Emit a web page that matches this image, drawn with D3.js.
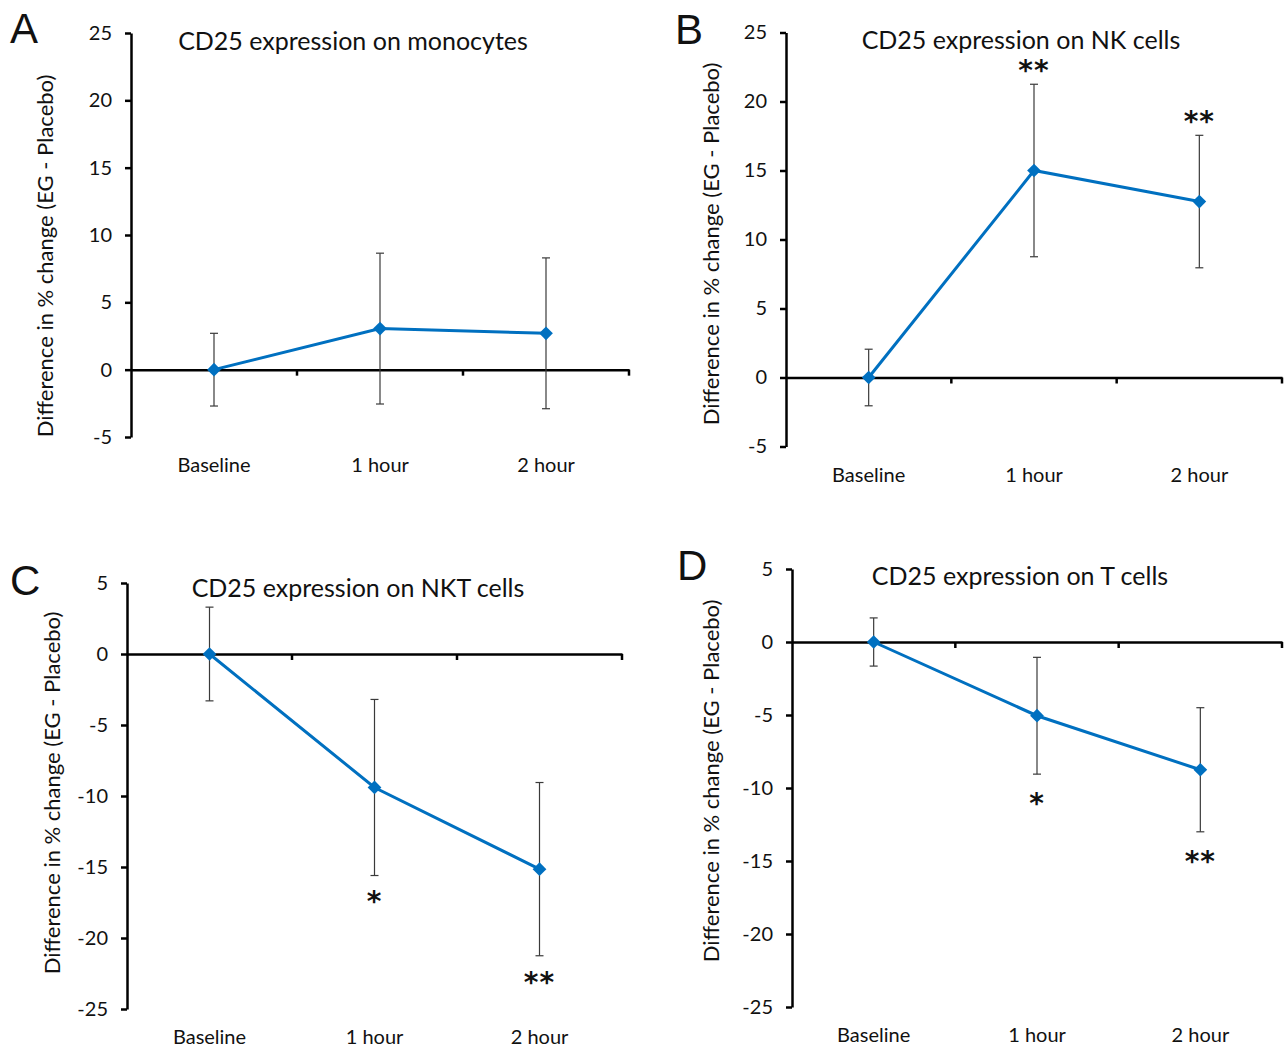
<!DOCTYPE html>
<html>
<head>
<meta charset="utf-8">
<script src="https://cdn.jsdelivr.net/npm/d3@7"></script>
<style>
  body { margin: 0; background: #fff; }
  text { font-family: Lato, "Open Sans", sans-serif; fill: #111; }
</style>
</head>
<body>
<div id="chart"></div>
<script>
// data
var categories = ["Baseline", "1 hour", "2 hour"];
var titles = ["CD25 expression on monocytes", "CD25 expression on NK cells",
              "CD25 expression on NKT cells", "CD25 expression on T cells"];
var letters = ["A", "B", "C", "D"];
var yLabel = "Difference in % change (EG - Placebo)";

var monoMean = [0, 3.05, 2.7],   monoErr = [2.7, 5.6, 5.6];
var nkMean   = [0, 15, 12.75],   nkErr   = [2.05, 6.25, 4.8];
var nktMean  = [0, -9.4, -15.15], nktErr = [3.3, 6.2, 6.1];
var tMean    = [0, -5.05, -8.75], tErr   = [1.65, 4.0, 4.25];

var ticksUp   = [-5, 0, 5, 10, 15, 20, 25];
var ticksDown = [-25, -20, -15, -10, -5, 0, 5];

// significance marks and where they sit (in data units)
var monoStars = ["", "", ""],     monoStarY = [null, null, null];
var nkStars   = ["", "**", "**"], nkStarY   = [null, 22.8, 19.1];
var nktStars  = ["", "*", "**"],  nktStarY  = [null, -16.9, -22.6];
var tStars    = ["", "*", "**"],  tStarY    = [null, -10.5, -14.5];

// set the dimensions of the page
var W = 1285, H = 1050;
var svg = d3.select("#chart").append("svg")
    .attr("width", W).attr("height", H);

var panels = [
  {mean: monoMean, err: monoErr, stars: monoStars, starY: monoStarY, ticks: ticksUp,
   left: 131, right: 629, top: 33, bottom: 437, titleX: 353, titleY: 50,
   labX: 45, labY: 256, letX: 10, letY: 43},
  {mean: nkMean, err: nkErr, stars: nkStars, starY: nkStarY, ticks: ticksUp,
   left: 786, right: 1282, top: 32.5, bottom: 446.5, titleX: 1021, titleY: 49,
   labX: 711, labY: 244, letX: 675, letY: 44},
  {mean: nktMean, err: nktErr, stars: nktStars, starY: nktStarY, ticks: ticksDown,
   left: 127, right: 622, top: 583, bottom: 1009, titleX: 358, titleY: 597,
   labX: 52, labY: 793, letX: 10, letY: 595},
  {mean: tMean, err: tErr, stars: tStars, starY: tStarY, ticks: ticksDown,
   left: 792, right: 1282, top: 569, bottom: 1007, titleX: 1020, titleY: 585,
   labX: 711, labY: 781, letX: 677, letY: 580}
];

panels.forEach(function(p, i) {
  var g = svg.append("g");

  var x = d3.scaleBand()
      .domain(categories)
      .range([p.left, p.right]);
  var y = d3.scaleLinear()
      .domain(d3.extent(p.ticks))
      .range([p.bottom, p.top]);

  // y axis
  var ya = g.append("g")
      .attr("transform", "translate(" + p.left + ",0)")
      .call(d3.axisLeft(y).tickValues(p.ticks).tickSize(6).tickSizeOuter(0).tickPadding(13)
        .tickFormat(function(d) { return String(d); }));
  ya.select(".domain").attr("stroke", "#000").attr("stroke-width", 2.5);
  ya.selectAll(".tick line").attr("stroke", "#000").attr("stroke-width", 2.5);
  ya.selectAll("text").style("font-family", "Lato, sans-serif")
      .style("font-size", "20px").attr("fill", "#111");

  // x axis at zero
  var xa = g.append("g")
      .attr("transform", "translate(0," + y(0) + ")")
      .call(d3.axisBottom(x).tickSize(0).tickSizeOuter(0).tickFormat(""));
  xa.select(".domain").attr("stroke", "#000").attr("stroke-width", 2.5);
  xa.selectAll(".tick").remove();
  xa.selectAll(".bound")
    .data(categories)
    .enter()
    .append("line")
      .attr("x1", function(d) { return x(d) + x.bandwidth(); })
      .attr("x2", function(d) { return x(d) + x.bandwidth(); })
      .attr("y1", 0).attr("y2", 6)
      .attr("stroke", "#000").attr("stroke-width", 2.5);

  // category labels below plot
  var ca = g.append("g")
      .attr("transform", "translate(0," + (p.bottom + 21) + ")")
      .call(d3.axisBottom(x).tickSize(0).tickPadding(0));
  ca.select(".domain").remove();
  ca.selectAll("text").style("font-family", "Lato, sans-serif")
      .style("font-size", "20px").attr("fill", "#111");

  var cx = function(j) { return x(categories[j]) + x.bandwidth() / 2; };

  // error bars
  var eb = g.append("g").attr("stroke", "#3a3a3a").attr("stroke-width", 1.2);
  p.mean.forEach(function(m, j) {
    var xx = cx(j);
    eb.append("line").attr("x1", xx).attr("x2", xx)
      .attr("y1", y(m - p.err[j])).attr("y2", y(m + p.err[j]));
    [m - p.err[j], m + p.err[j]].forEach(function(v) {
      eb.append("line").attr("x1", xx - 4).attr("x2", xx + 4)
        .attr("y1", y(v)).attr("y2", y(v));
    });
  });

  // line
  var line = d3.line()
      .x(function(d, j) { return cx(j); })
      .y(function(d) { return y(d); });
  g.append("path")
    .datum(p.mean)
    .attr("d", line)
    .attr("fill", "none")
    .attr("stroke", "#0070C0")
    .attr("stroke-width", 3);

  g.append("g").selectAll("path")
    .data(p.mean)
    .enter()
    .append("path")
      .attr("d", d3.symbol().type(d3.symbolDiamond2).size(120))
      .attr("transform", function(d, j) { return "translate(" + cx(j) + "," + y(d) + ")"; })
      .attr("fill", "#0070C0");

  // stars
  p.stars.forEach(function(s, j) {
    if (!s) return;
    g.append("text")
      .attr("x", cx(j))
      .attr("y", y(p.starY[j]))
      .attr("dy", "0.62em")
      .attr("text-anchor", "middle")
      .style("font-family", "'DejaVu Sans', sans-serif")
      .style("font-size", "28px")
      .style("font-weight", "bold")
      .style("letter-spacing", "1px")
      .text(s);
  });

  // title
  g.append("text")
    .attr("x", p.titleX).attr("y", p.titleY)
    .attr("text-anchor", "middle")
    .style("font-size", "25px")
    .text(titles[i]);

  // y label
  g.append("text")
    .attr("transform", "translate(" + p.labX + "," + p.labY + ") rotate(-90)")
    .attr("text-anchor", "middle")
    .attr("dy", "0.35em")
    .style("font-size", "22px")
    .text(yLabel);

  // panel letter
  g.append("text")
    .attr("x", p.letX).attr("y", p.letY)
    .style("font-family", "'Liberation Sans', Arial, sans-serif")
    .style("font-size", "42px")
    .text(letters[i]);
});
</script>
</body>
</html>
